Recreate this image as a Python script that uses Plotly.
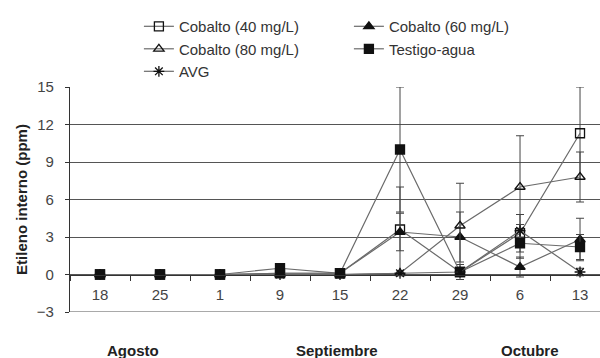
import plotly.graph_objects as go

cats = ["18", "25", "1", "9", "15", "22", "29", "6", "13"]
months = ["Agosto", "Septiembre", "Octubre"]
month_pos = [0.55, 3.95, 7.17]

co40 = [0, 0, 0, 0.1, 0.1, 3.6, 0.2, 3.3, 11.3]
co40_err = [0, 0, 0, 0, 0, 3.4, 0.6, 1.5, 3.7]
co60 = [0, 0, 0, 0.1, 0.1, 3.4, 3.0, 0.6, 2.8]
co60_err = [0, 0, 0, 0, 0, 1.5, 2.0, 0.8, 1.7]
co80 = [0, 0, 0, 0, 0, 0.1, 3.9, 7.0, 7.8]
co80_err = [0, 0, 0, 0, 0, 0, 3.4, 4.1, 2.0]
testigo = [0, 0, 0, 0.5, 0.1, 10.0, 0.2, 2.5, 2.2]
testigo_err = [0, 0, 0, 0.2, 0, 5.0, 0.3, 1.2, 1.0]
avg = [0, 0, 0, 0, 0, 0.1, 0.2, 3.5, 0.2]
avg_err = [0, 0, 0, 0, 0, 0, 0, 0.5, 0.3]

series = [
    ("Cobalto (40 mg/L)", co40, co40_err, "square-open"),
    ("Cobalto (60 mg/L)", co60, co60_err, "triangle-up"),
    ("Cobalto (80 mg/L)", co80, co80_err, "triangle-up-open"),
    ("Testigo-agua", testigo, testigo_err, "square"),
    ("AVG", avg, avg_err, "asterisk-open"),
]

fig = go.Figure()
for name, vals, err, sym in series:
    fig.add_trace(go.Scatter(
        x=cats, y=vals, name=name, mode="lines+markers",
        line=dict(color="#6a6a6a", width=1.2),
        marker=dict(symbol=sym, size=9, color="#111",
                    line=dict(color="#111", width=1.3)),
        error_y=dict(type="data", array=err, visible=True,
                     color="#444", thickness=1, width=4),
    ))

for m, p in zip(months, month_pos):
    fig.add_annotation(x=p, xref="x", y=-0.169, yref="paper", yanchor="middle",
                       text=f"<b>{m}</b>",
                       showarrow=False, font=dict(size=15, color="#222"))

fig.add_shape(type="line", xref="paper", yref="y", x0=0, x1=1, y0=-3, y1=-3,
              line=dict(color="#555", width=1.2))

fig.update_layout(
    width=600, height=358,
    margin=dict(l=70, r=0, t=87, b=46),
    paper_bgcolor="white", plot_bgcolor="white",
    font=dict(family="Liberation Sans, Arial, sans-serif", size=15, color="#333"),
    legend=dict(orientation="h", x=0.13, xanchor="left", y=1.342, yanchor="top",
                entrywidth=165, font=dict(size=15, color="#333"),
                bgcolor="rgba(0,0,0,0)"),
    showlegend=True,
)
fig.update_xaxes(
    type="category", range=[-0.5, 8.333], anchor="free", position=1/6,
    showline=True, linecolor="#333", linewidth=1,
    ticks="outside", tickson="boundaries", ticklen=5, tickcolor="#333",
    showgrid=False, ticklabelstandoff=6,
    tickfont=dict(size=15, color="#444"),
)
fig.update_yaxes(
    range=[-3, 15], dtick=3, tick0=0,
    showline=True, linecolor="#333", linewidth=1.2,
    ticks="outside", ticklen=4, tickcolor="#333",
    showgrid=True, gridcolor="#555", gridwidth=1,
    zeroline=False, ticklabelstandoff=8,
    tickfont=dict(size=15, color="#444"),
    title=dict(text="<b>Etileno interno (ppm)</b>", font=dict(size=15, color="#222"),
               standoff=5),
)

fig.write_html("out.html")
